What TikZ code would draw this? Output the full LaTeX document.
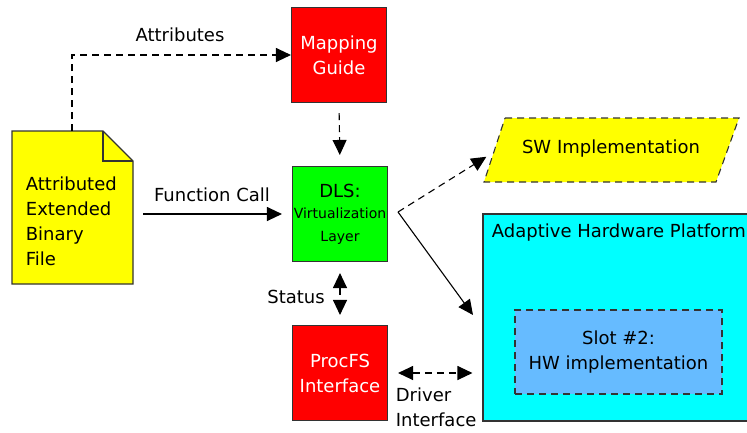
\documentclass[tikz,border=0pt]{standalone}
\usepackage{fontspec}
\setmainfont{DejaVu Sans}
\usetikzlibrary{arrows.meta}

\definecolor{slotblue}{HTML}{66BBFF}
\definecolor{boxred}{HTML}{FF0000}
\definecolor{boxgreen}{HTML}{00FF00}
\definecolor{boxyellow}{HTML}{FFFF00}
\definecolor{boxcyan}{HTML}{00FFFF}

\tikzset{
	txt/.style={font=\fontsize{18}{25}\selectfont},
	box/.style={txt, draw=black!80, line width=1.1pt, minimum width=95pt, minimum height=95pt, inner sep=0pt, align=center},
	tip/.style={-{Triangle[length=15pt,width=14pt]}},
	tips/.style={{Triangle[length=15pt,width=14pt]}-{Triangle[length=15pt,width=14pt]}},
	dashline/.style={dash pattern=on 7pt off 5pt},
}

\begin{document}
\begin{tikzpicture}[x=1pt, y=-1pt, line width=1.1pt]
	\useasboundingbox (0,0) rectangle (747,432);

	% Draw the file
	\draw[fill=boxyellow, draw=black!80] (12,131) -- (103,131) -- (133,161) -- (133,284) -- (12,284) -- cycle;
	\draw[draw=black!80] (103,131) -- (103,161) -- (133,161);
	\node[txt, align=left, anchor=west] (aebf) at (22,221) {Attributed\\Extended\\Binary\\File};
	\coordinate (doctop) at (72,131);
	\coordinate (docright) at (133,214);

	% Draw the boxes
	\node[box, fill=boxred, text=white] (mg) at (339,55) {Mapping\\Guide};
	\node[box, fill=boxgreen] (dls) at (340,214) {DLS:\\[-4pt]{\fontsize{14}{19}\selectfont Virtualization}\\[-2pt]{\fontsize{14}{19}\selectfont Layer}};
	\node[box, fill=boxred, text=white] (procfs) at (340,373) {ProcFS\\Interface};

	% Draw the SW implementation
	\draw[fill=boxyellow, draw=black!80, dashline] (505,118) -- (739,118) -- (716,182) -- (484,182) -- cycle;
	\node[txt] (sw) at (611,149) {SW Implementation};
	\coordinate (swleft) at (494,152);

	% Draw the platform and the slot
	\node[box, fill=boxcyan, minimum width=275pt, minimum height=207pt] (ahp) at (620.5,317.5) {};
	\node[txt, anchor=west] (ahptext) at (488,233) {Adaptive Hardware Platform};
	\node[box, fill=slotblue, dashline, minimum width=207pt, minimum height=84pt] (slot) at (618.5,352) {Slot \#2:\\HW implementation};

	% Draw the arrows
	\draw[tip, dashline] (doctop) |- (mg.west);
	\node[txt] at (180,35) {Attributes};
	\draw[tip, dashline, shorten <=10pt, shorten >=11pt] (mg.south) -- (dls.north);
	\draw[tip, shorten <=10pt, shorten >=10pt] (docright) -- (dls.west);
	\node[txt] at (212,195) {Function Call};

	\coordinate (fork) at (398,212);
	\coordinate (ahpin) at (473,315);
	\draw[tip, dashline, shorten >=9pt] (fork) -- (swleft);
	\draw[tip] (fork) -- (ahpin);

	\draw[tips, dashline, shorten <=11pt, shorten >=10pt] (dls.south) -- (procfs.north);
	\node[txt] at (296,297) {Status};
	\draw[tips, dashline, shorten <=10pt, shorten >=10pt] (procfs.east) -- (ahp.west |- procfs.east);
	\node[txt, align=left, anchor=west] at (392,407) {Driver\\Interface};
\end{tikzpicture}
\end{document}
